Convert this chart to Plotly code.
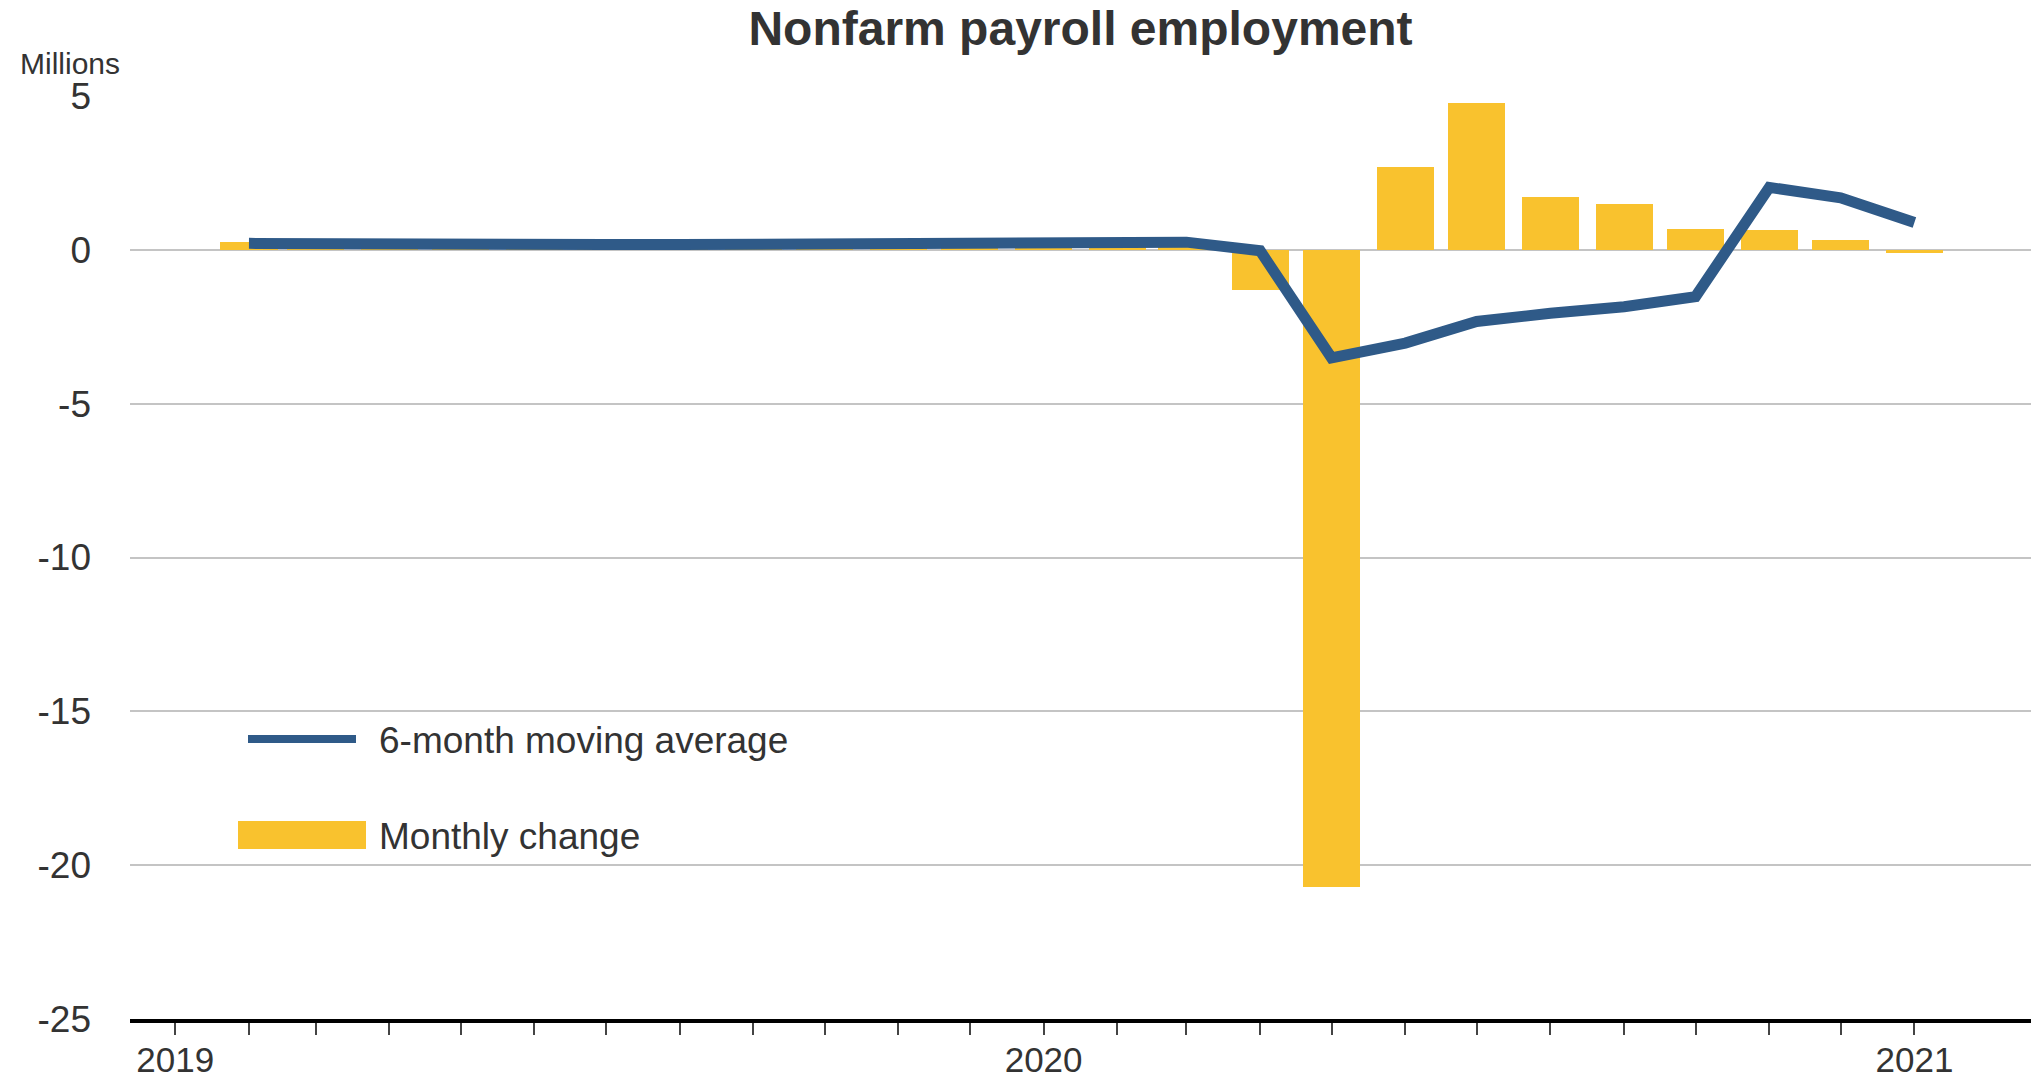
import pandas as pd
import plotly.graph_objects as go

# Reference months (each value is drawn at the end of its month)
months = [
    "2019-01", "2019-02", "2019-03", "2019-04", "2019-05", "2019-06",
    "2019-07", "2019-08", "2019-09", "2019-10", "2019-11", "2019-12",
    "2020-01", "2020-02", "2020-03", "2020-04", "2020-05", "2020-06",
    "2020-07", "2020-08", "2020-09", "2020-10", "2020-11", "2020-12",
]

# Over-the-month change in nonfarm payroll employment, millions
monthly_change = [
    0.27, 0.05, 0.15, 0.21, 0.09, 0.18,
    0.19, 0.21, 0.21, 0.19, 0.26, 0.18,
    0.21, 0.25, -1.30, -20.72, 2.70, 4.76,
    1.73, 1.49, 0.67, 0.63, 0.32, -0.09,
]

# 6-month moving average of the monthly change, millions
moving_average = [
    0.21, 0.19, 0.19, 0.19, 0.18, 0.17,
    0.17, 0.18, 0.19, 0.20, 0.21, 0.21,
    0.22, 0.25, -0.03, -3.51, -3.03, -2.33,
    -2.06, -1.85, -1.52, 2.03, 1.69, 0.89,
]

y_ticks = [5, 0, -5, -10, -15, -20, -25]
year_labels = {"2019-01-01": "2019", "2020-01-01": "2020", "2021-01-01": "2021"}

BAR_COLOR = "#F9C22E"
LINE_COLOR = "#2F5A88"
TEXT_COLOR = "#333333"
GRID_COLOR = "#C4C4C4"
FONT = "Liberation Sans, Arial, Helvetica, sans-serif"

x_pos = pd.to_datetime(months) + pd.offsets.MonthBegin(1)

tick_dates = pd.date_range("2019-01-01", "2021-01-01", freq="MS")
tick_text = [year_labels.get(d.strftime("%Y-%m-%d"), "") for d in tick_dates]

W, H = 2031, 1081
L, R, T, B = 130, 0, 96, 62
plot_w, plot_h = W - L - R, H - T - B


def px_x(px):
    return (px - L) / plot_w


def px_y(py):
    return (H - B - py) / plot_h


fig = go.Figure()

fig.add_trace(go.Bar(
    x=x_pos,
    y=monthly_change,
    width=[24 * 86400000] * len(months),
    marker=dict(color=BAR_COLOR, line=dict(width=0)),
    name="Monthly change",
    showlegend=False,
))

fig.add_trace(go.Scatter(
    x=x_pos,
    y=moving_average,
    mode="lines",
    line=dict(color=LINE_COLOR, width=11),
    name="6-month moving average",
    showlegend=False,
))

# Legend drawn as shapes and text inside the plot
legend_shapes = [
    dict(type="line", xref="paper", yref="paper",
         x0=px_x(248), x1=px_x(356), y0=px_y(739), y1=px_y(739),
         line=dict(color=LINE_COLOR, width=8)),
    dict(type="rect", xref="paper", yref="paper",
         x0=px_x(238), x1=px_x(366), y0=px_y(849), y1=px_y(821),
         fillcolor=BAR_COLOR, line=dict(width=0)),
]

annotations = [
    dict(text="6-month moving average", xref="paper", yref="paper",
         x=px_x(377), y=px_y(740), xanchor="left", yanchor="middle",
         showarrow=False, font=dict(family=FONT, size=37, color=TEXT_COLOR)),
    dict(text="Monthly change", xref="paper", yref="paper",
         x=px_x(377), y=px_y(836), xanchor="left", yanchor="middle",
         showarrow=False, font=dict(family=FONT, size=37, color=TEXT_COLOR)),
    dict(text="Millions", xref="paper", yref="paper",
         x=px_x(70), y=px_y(64), xanchor="center", yanchor="middle",
         showarrow=False, font=dict(family=FONT, size=30, color=TEXT_COLOR)),
]

fig.update_layout(
    width=W,
    height=H,
    autosize=False,
    margin=dict(l=L, r=R, t=T, b=B, pad=0),
    paper_bgcolor="white",
    plot_bgcolor="white",
    bargap=0,
    title=dict(
        text="<b>Nonfarm payroll employment</b>",
        xref="paper", x=0.5, xanchor="center",
        yref="container", y=1 - 28 / H, yanchor="middle",
        font=dict(family=FONT, size=48, color=TEXT_COLOR),
    ),
    shapes=legend_shapes,
    annotations=annotations,
    showlegend=False,
)

fig.update_xaxes(
    type="date",
    range=["2018-12-13", "2021-02-19"],
    tickvals=tick_dates,
    ticktext=tick_text,
    ticks="outside",
    ticklen=12,
    tickwidth=2,
    tickcolor="#444444",
    showline=True,
    linecolor="black",
    linewidth=4,
    showgrid=False,
    zeroline=False,
    automargin=False,
    tickfont=dict(family=FONT, size=35, color=TEXT_COLOR),
    ticklabelstandoff=-5,
)

fig.update_yaxes(
    range=[-25, 5],
    tickvals=y_ticks,
    ticktext=[str(v) for v in y_ticks],
    showgrid=True,
    gridcolor=GRID_COLOR,
    gridwidth=2,
    zeroline=True,
    zerolinecolor=GRID_COLOR,
    zerolinewidth=2,
    showline=False,
    ticks="",
    automargin=False,
    tickfont=dict(family=FONT, size=37, color=TEXT_COLOR),
    ticklabelstandoff=38,
)

fig.write_html("out.html")
